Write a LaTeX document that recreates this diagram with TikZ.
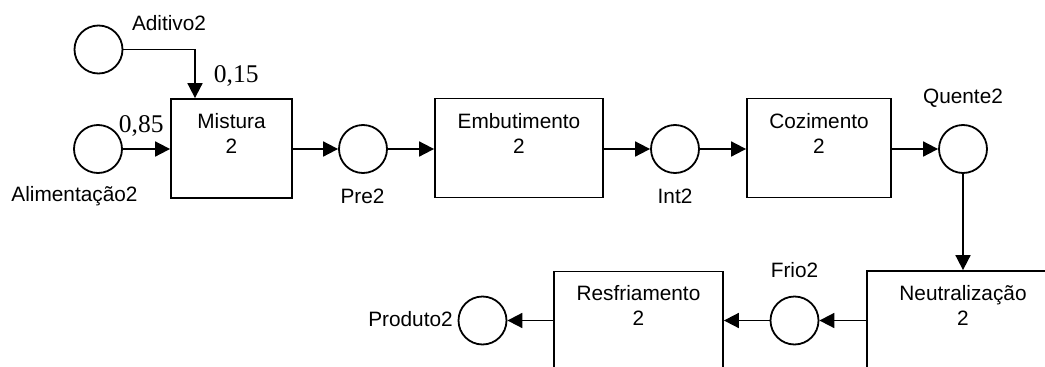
\documentclass[tikz,border=0pt]{standalone}
\usepackage{fontspec}
\setmainfont{Liberation Sans}
\newfontfamily\numfont{Liberation Serif}
\usetikzlibrary{arrows.meta}
\begin{document}
\begin{tikzpicture}[x=1pt,y=-1pt,line width=1.8pt,
  place/.style={circle,draw,minimum size=48pt,inner sep=0pt},
  procbox/.style={draw,rectangle,inner sep=0pt,minimum height=99pt},
  txt/.style={font=\fontsize{20.8}{25}\selectfont,inner sep=0pt,anchor=base},
  weight/.style={font=\numfont\fontsize{25.5}{30}\selectfont,inner sep=0pt,anchor=base west},
  flow/.style={-{Triangle[length=15pt,width=15pt]}}]
\clip (0,0) rectangle (1045,367);
\fill[white] (0,0) rectangle (1045,367);

% places
\node[place] (adit) at (98.5,49.5) {};
\node[place] (alim) at (98,149) {};
\node[place] (pre)  at (363,149) {};
\node[place] (int)  at (675,149) {};
\node[place] (quen) at (963,149) {};
\node[place] (frio) at (794.5,320.5) {};
\node[place] (prod) at (482.5,320.5) {};

% process boxes
\node[procbox,minimum width=121pt] (mist) at (231.5,148.5) {};
\node[procbox,minimum width=168pt] (embu) at (519,148) {};
\node[procbox,minimum width=144pt] (cozi) at (819,148) {};
\node[procbox,minimum width=192pt] (neut) at (963,320.5) {};
\node[procbox,minimum width=169pt] (resf) at (638.5,321) {};

% box captions
\node[txt] (mistA) at ([yshift=-30pt]mist.north) {Mistura};
\node[txt] (mistB) at ([yshift=-55pt]mist.north) {2};
\node[txt] (embuA) at ([yshift=-31pt]embu.north) {Embutimento};
\node[txt] (embuB) at ([yshift=-56pt]embu.north) {2};
\node[txt] (coziA) at ([yshift=-31pt]cozi.north) {Cozimento};
\node[txt] (coziB) at ([yshift=-56pt]cozi.north) {2};
\node[txt] (neutA) at ([yshift=-30pt]neut.north) {Neutralização};
\node[txt] (neutB) at ([yshift=-55pt]neut.north) {2};
\node[txt] (resfA) at ([yshift=-30pt]resf.north) {Resfriamento};
\node[txt] (resfB) at ([yshift=-55pt]resf.north) {2};

% place names
\node[txt] (lAdit) at (169,30) {Aditivo2};
\node[txt] (lAlim) at (74.5,201) {Alimentação2};
\node[txt] (lPre)  at (362.5,203) {Pre2};
\node[txt] (lInt)  at (675,203) {Int2};
\node[txt] (lQuen) at (963,103) {Quente2};
\node[txt] (lFrio) at (794.5,277) {Frio2};
\node[txt] (lProd) at (410.5,326) {Produto2};

% mixing fractions
\node[weight] (w15) at (213,82) {0,15};
\node[weight] (w85) at (118,132.5) {0,85};

% flows
\draw[flow] (adit.east) -| ([xshift=-36.5pt]mist.north);
\draw[flow] (alim.east) -- (mist.west |- alim.east);
\draw[flow] (mist.east |- pre.west) -- (pre.west);
\draw[flow] (pre.east) -- (embu.west |- pre.east);
\draw[flow] (embu.east |- int.west) -- (int.west);
\draw[flow] (int.east) -- (cozi.west |- int.east);
\draw[flow] (cozi.east |- quen.west) -- (quen.west);
\draw[flow] (quen.south) -- (neut.north);
\draw[flow] (neut.west |- frio.east) -- (frio.east);
\draw[flow] (frio.west) -- (resf.east |- frio.west);
\draw[flow] (resf.west |- prod.east) -- (prod.east);
\end{tikzpicture}
\end{document}
